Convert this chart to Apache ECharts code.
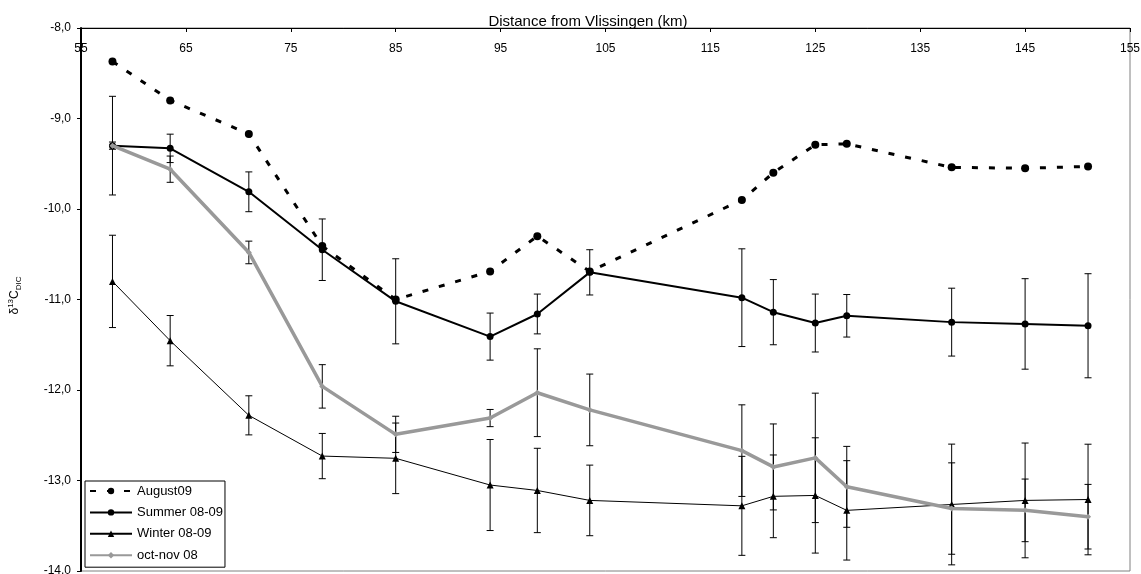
<!DOCTYPE html>
<html>
<head>
<meta charset="utf-8">
<title>δ13C DIC along the Scheldt estuary</title>
<script src="https://cdn.jsdelivr.net/npm/echarts@6/dist/echarts.min.js"></script>
<style>
  html, body { margin: 0; padding: 0; background: #fff; }
  #chart { width: 1141px; height: 574px; }
</style>
</head>
<body>
<div id="chart"></div>
<script>
// Sampling stations: distance from Vlissingen (km)
const distances = [58, 63.5, 71, 78, 85, 94, 98.5, 103.5, 118, 121, 125, 128, 138, 145, 151];

// δ13C-DIC per campaign (‰)
const august09 = [-8.37, -8.80, -9.17, -10.41, -11.00, -10.69, -10.30, -10.69, -9.90, -9.60, -9.29, -9.28, -9.54, -9.55, -9.53];
const summer0809 = [-9.30, -9.33, -9.81, -10.45, -11.02, -11.41, -11.16, -10.70, -10.98, -11.14, -11.26, -11.18, -11.25, -11.27, -11.29];
const winter0809 = [-10.80, -11.455, -12.28, -12.73, -12.755, -13.05, -13.11, -13.22, -13.28, -13.175, -13.165, -13.33, -13.265, -13.22, -13.21];
const octNov08 = [-9.30, -9.56, -10.48, -11.96, -12.49, -12.31, -12.03, -12.22, -12.67, -12.85, -12.75, -13.07, -13.31, -13.33, -13.40];

// Standard deviations (±) for the seasonal means
const summer0809Err = [0.545, 0.157, 0.22, 0.34, 0.47, 0.26, 0.22, 0.25, 0.54, 0.36, 0.32, 0.235, 0.375, 0.50, 0.575];
const winter0809Err = [0.51, 0.278, 0.216, 0.25, 0.39, 0.503, 0.466, 0.39, 0.547, 0.457, 0.637, 0.549, 0.667, 0.634, 0.611];
const octNov08Err = [0.04, 0.145, 0.125, 0.24, 0.20, 0.095, 0.485, 0.396, 0.506, 0.475, 0.715, 0.447, 0.505, 0.346, 0.357];

// Axis ticks
const xMin = 55, xMax = 155, xStep = 10;
const yMin = -14, yMax = -8, yStep = 1;

const seriesNames = ['August09', 'Summer 08-09', 'Winter 08-09', 'oct-nov 08'];
const FONT = '"Liberation Sans", Arial, sans-serif';

function pairs(values) {
  return distances.map((d, i) => [d, values[i]]);
}

// Vertical error bars with short caps, drawn through the axis scales
function errorBars(id, values, errs) {
  return {
    type: 'custom',
    id: id,
    name: id,
    silent: true,
    z: 1,
    data: distances.map((d, i) => [d, values[i] - errs[i], values[i] + errs[i]]),
    encode: { x: 0, y: [1, 2] },
    renderItem: function (params, api) {
      const x = api.value(0);
      const lo = api.coord([x, api.value(1)]);
      const hi = api.coord([x, api.value(2)]);
      const hw = 3.5;
      const style = { stroke: '#000', lineWidth: 1 };
      return {
        type: 'group',
        children: [
          { type: 'line', shape: { x1: lo[0], y1: lo[1], x2: hi[0], y2: hi[1] }, style: style },
          { type: 'line', shape: { x1: lo[0] - hw, y1: lo[1], x2: lo[0] + hw, y2: lo[1] }, style: style },
          { type: 'line', shape: { x1: hi[0] - hw, y1: hi[1], x2: hi[0] + hw, y2: hi[1] }, style: style }
        ]
      };
    }
  };
}

const chart = echarts.init(document.getElementById('chart'), null, { renderer: 'canvas' });

chart.setOption({
  animation: false,
  backgroundColor: '#fff',
  textStyle: { fontFamily: FONT },
  grid: {
    left: 81, top: 28, right: 11, bottom: 3,
    show: true, borderColor: '#808080', borderWidth: 1, backgroundColor: 'transparent',
    containLabel: false, outerBoundsMode: 'none'
  },
  legend: {
    orient: 'vertical',
    left: 85, top: 481,
    padding: [3, 2, 5, 4],
    itemGap: 7.4,
    itemWidth: 42, itemHeight: 8,
    backgroundColor: '#fff',
    borderColor: '#000', borderWidth: 1,
    textStyle: { fontSize: 13, color: '#000', fontFamily: FONT, lineHeight: 14 },
    data: seriesNames
  },
  xAxis: {
    type: 'value',
    position: 'top',
    min: xMin, max: xMax, interval: xStep,
    name: 'Distance from Vlissingen (km)',
    nameLocation: 'middle',
    nameGap: 6,
    nameMoveOverlap: false,
    nameTextStyle: {
      fontSize: 15, color: '#000', fontFamily: FONT,
      verticalAlign: 'middle', padding: [0, 35, 0, 0]
    },
    axisLine: { show: true, onZero: false, lineStyle: { color: '#000', width: 1 } },
    axisTick: { show: true, inside: true, length: 4, lineStyle: { color: '#000' } },
    axisLabel: {
      inside: true, margin: 15, fontSize: 12, color: '#000', fontFamily: FONT,
      showMinLabel: true, showMaxLabel: true
    },
    splitLine: { show: false }
  },
  yAxis: {
    type: 'value',
    min: yMin, max: yMax, interval: yStep,
    name: '{a|δ}{b|13}{c|C}{d|DIC}',
    nameLocation: 'middle',
    nameRotate: 90,
    nameGap: 58,
    nameTextStyle: {
      color: '#000', fontFamily: FONT, padding: [0, 0, 0, 8],
      rich: {
        a: { fontSize: 12, lineHeight: 16, verticalAlign: 'middle', fontFamily: FONT, color: '#000' },
        b: { fontSize: 8, lineHeight: 8, verticalAlign: 'top', fontFamily: FONT, color: '#000' },
        c: { fontSize: 12, lineHeight: 16, verticalAlign: 'middle', fontFamily: FONT, color: '#000' },
        d: { fontSize: 8, lineHeight: 8, verticalAlign: 'bottom', fontFamily: FONT, color: '#000' }
      }
    },
    axisLine: { show: true, onZero: false, lineStyle: { color: '#000', width: 2 } },
    axisTick: { show: true, length: 4, lineStyle: { color: '#000' } },
    axisLabel: {
      margin: 10, fontSize: 12, color: '#000', fontFamily: FONT,
      showMinLabel: true, showMaxLabel: true,
      formatter: v => v.toFixed(1).replace('.', ',')
    },
    splitLine: { show: false }
  },
  series: [
    errorBars('summer-sd', summer0809, summer0809Err),
    errorBars('winter-sd', winter0809, winter0809Err),
    errorBars('octnov-sd', octNov08, octNov08Err),
    {
      type: 'line', name: 'August09', data: pairs(august09), z: 3,
      symbol: 'circle', symbolSize: 8,
      lineStyle: { color: '#000', width: 3, type: [6, 11] },
      itemStyle: { color: '#000' }
    },
    {
      type: 'line', name: 'Summer 08-09', data: pairs(summer0809), z: 3,
      symbol: 'circle', symbolSize: 7,
      lineStyle: { color: '#000', width: 2 },
      itemStyle: { color: '#000' }
    },
    {
      type: 'line', name: 'Winter 08-09', data: pairs(winter0809), z: 3,
      symbol: 'triangle', symbolSize: 7,
      lineStyle: { color: '#000', width: 1 },
      itemStyle: { color: '#000' }
    },
    {
      type: 'line', name: 'oct-nov 08', data: pairs(octNov08), z: 4,
      symbol: 'diamond', symbolSize: 6,
      lineStyle: { color: '#999999', width: 3.5 },
      itemStyle: { color: '#999999' }
    }
  ]
});
</script>
</body>
</html>
